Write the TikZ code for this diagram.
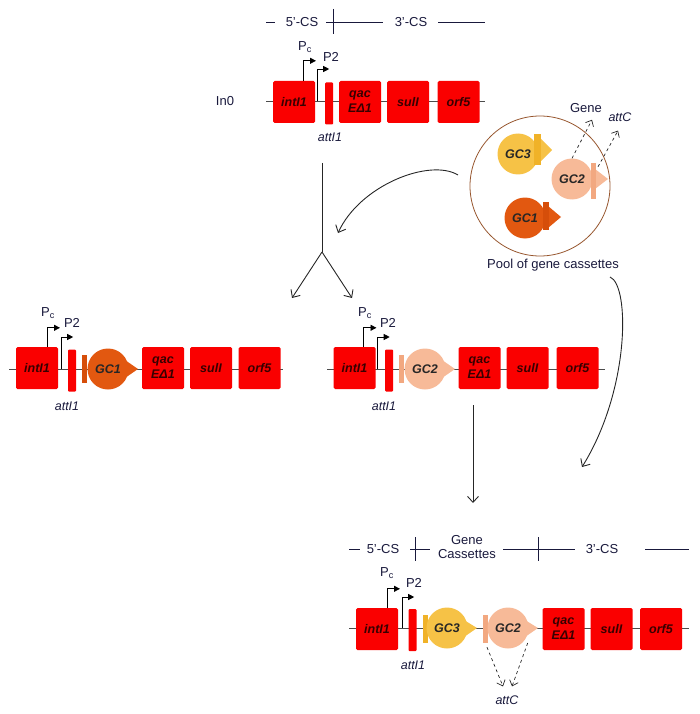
\documentclass[tikz,border=0pt]{standalone}
\usepackage{fontspec}
\setmainfont{Liberation Sans}
\usepackage{xcolor}
\usepackage{tikz}
\usetikzlibrary{arrows.meta,calc}

\definecolor{genered}{RGB}{250,0,0}
\definecolor{genetext}{RGB}{55,0,0}
\definecolor{navy}{RGB}{25,25,60}
\definecolor{gcone}{RGB}{226,88,16}
\definecolor{gconebar}{RGB}{214,78,10}
\definecolor{gctwo}{RGB}{247,186,152}
\definecolor{gctwobar}{RGB}{242,168,128}
\definecolor{gcthree}{RGB}{246,194,70}
\definecolor{gcthreebar}{RGB}{240,178,40}
\definecolor{poolbrown}{RGB}{150,85,45}

\tikzset{
  genebox/.style={fill=genered, rounded corners=1.5pt, minimum width=42pt, minimum height=42pt,
    inner sep=0pt, align=center, text=genetext, font=\fontsize{12.5}{15}\selectfont\bfseries\itshape},
  attbar/.style={fill=genered, rounded corners=1pt, minimum width=8pt, minimum height=42pt, inner sep=0pt},
  gcball/.style={circle, minimum size=41pt, inner sep=0pt, text=black!85,
    font=\fontsize{12.5}{14}\selectfont\bfseries\itshape},
  gcbar/.style={minimum width=5pt, minimum height=28pt, inner sep=0pt},
  lbl/.style={text=navy, inner sep=0pt, align=center, font=\fontsize{13}{14.5}\selectfont},
  itlbl/.style={text=navy, inner sep=0pt, font=\fontsize{12.5}{14}\selectfont\itshape},
  backbone/.style={draw=black!70, line width=0.8pt},
  csline/.style={draw=navy, line width=0.8pt},
  promoter/.style={draw=black, line width=0.8pt, -{Triangle[length=6pt,width=6pt]}},
  flow/.style={draw=black!85, line width=0.9pt, -{Straight Barb[length=6pt,width=11pt]}},
  excise/.style={draw=black!85, line width=0.7pt, dashed, -{Straight Barb[length=5pt,width=9pt]}},
}

\begin{document}
\begin{tikzpicture}[x=1pt,y=-1pt]
\useasboundingbox (0,0) rectangle (700,714);

% 5'-CS / 3'-CS bar over In0
\draw[csline] (266,22) -- (275,22);
\node[lbl] (fivecsTop) at (302,22) {5'-CS};
\draw[csline] (326,22) -- (383,22);
\draw[csline] (333,9) -- (333,34);
\node[lbl] (threecsTop) at (411,22) {3'-CS};
\draw[csline] (438,22) -- (485,22);

% In0
\node[lbl] (inzero) at (225,101) {In0};
\draw[backbone] (266,101) -- (485,101);
\node[genebox] (intTop) at (294,102) {intI1};
\node[attbar] (attTop) at (329,103.5) {};
\node[genebox] (qacTop) at (360,102) {qac\\EΔ1};
\node[genebox] (sulTop) at (408,102) {sulI};
\node[genebox] (orfTop) at (458.5,102) {orf5};
\draw[promoter] ($(intTop.north)+(9,0)$) |- ++(13,-20);
\draw[promoter] ($(intTop.east)+(2,-1)$) |- ++(12,-32);
\node[lbl] (pcTop) at (305,47) {P\textsubscript{c}};
\node[lbl] (ptwoTop) at (331,57) {P2};
\node[itlbl] (attlblTop) at (330,137) {attI1};

% Pool of gene cassettes
\node[circle, draw=poolbrown, line width=0.8pt, minimum size=140pt, inner sep=0pt] (pool) at (540,186) {};
\node[gcball, fill=gcthree] (gcThreePool) at (518,154) {GC3};
\fill[gcthree] (541,139) -- (552,150) -- (541,161) -- cycle;
\node[gcbar, fill=gcthreebar, minimum width=7pt, minimum height=31pt] (barThreePool) at (537.5,150) {};
\fill[gctwo] (595,169) -- (608,179) -- (595,189) -- cycle;
\node[gcball, fill=gctwo] (gcTwoPool) at (572,179) {GC2};
\node[gcbar, fill=gctwobar, minimum height=36pt] (barTwoPool) at (593,181) {};
\fill[gcone] (548,206) -- (561,217) -- (548,228) -- cycle;
\node[gcball, fill=gcone] (gcOnePool) at (525,218) {GC1};
\node[gcbar, fill=gconebar, minimum width=6pt] (barOnePool) at (545.5,216) {};
\node[lbl] (poollbl) at (553,265) {Pool of gene cassettes};
\node[lbl] (genelbl) at (586,108) {Gene};
\node[itlbl] (attclbl) at (620,117) {attC};
\draw[excise] (gcTwoPool.north) -- ($(genelbl.south)+(6,7)$);
\draw[excise] ($(barTwoPool.north)+(5,4)$) -- ($(attclbl.south)+(-2,9)$);

% Integration arrows
\coordinate (stemtop) at (322,163);
\coordinate (split) at (322,252);
\coordinate (toleft) at (292,298);
\coordinate (toright) at (352,298);
\draw[line width=0.9pt, draw=black!85] (stemtop) -- (split);
\draw[flow] (split) -- (toleft);
\draw[flow] (split) -- (toright);
\coordinate (poolout) at (458,175);
\coordinate (splitin) at (338,233);
\draw[flow] (poolout) .. controls (430,158) and (360,185) .. (splitin);

% GC1 inserted
\draw[backbone] (9,369) -- (283,369);
\node[genebox] (intL) at (37,368) {intI1};
\node[attbar] (attL) at (72,370.5) {};
\node[gcbar, fill=gconebar] (barL) at (84.5,369) {};
\fill[gcone] (125,360) -- (138,369) -- (125,378) -- cycle;
\node[gcball, fill=gcone] (gcL) at (108,369) {GC1};
\node[genebox] (qacL) at (163,368) {qac\\EΔ1};
\node[genebox] (sulL) at (211,368) {sulI};
\node[genebox] (orfL) at (259.5,368) {orf5};
\draw[promoter] ($(intL.north)+(10,0)$) |- ++(13,-19);
\draw[promoter] ($(intL.east)+(3,1)$) |- ++(12,-32);
\node[lbl] (pcL) at (48,313) {P\textsubscript{c}};
\node[lbl] (ptwoL) at (72,323) {P2};
\node[itlbl] (attlblL) at (67,406) {attI1};

% GC2 inserted
\draw[backbone] (327,369) -- (605,369);
\node[genebox] (intR) at (354.5,368) {intI1};
\node[attbar] (attR) at (389,370.5) {};
\node[gcbar, fill=gctwobar] (barR) at (401.5,369) {};
\fill[gctwo] (442,360) -- (455,369) -- (442,378) -- cycle;
\node[gcball, fill=gctwo] (gcR) at (425,369) {GC2};
\node[genebox] (qacR) at (479.5,368) {qac\\EΔ1};
\node[genebox] (sulR) at (527.5,368) {sulI};
\node[genebox] (orfR) at (577.5,368) {orf5};
\draw[promoter] ($(intR.north)+(9,0)$) |- ++(13,-19);
\draw[promoter] ($(intR.east)+(2,1)$) |- ++(12,-32);
\node[lbl] (pcR) at (365,313) {P\textsubscript{c}};
\node[lbl] (ptwoR) at (388,323) {P2};
\node[itlbl] (attlblR) at (384,406) {attI1};

% Second round
\coordinate (downtop) at (473,405);
\coordinate (downend) at (473,503);
\draw[flow] (downtop) -- (downend);
\coordinate (poolout2) at (610,277);
\coordinate (poolin2) at (582,467);
\draw[flow] (poolout2) .. controls (630,285) and (630,390) .. (poolin2);

% 5'-CS / Gene Cassettes / 3'-CS bar
\draw[csline] (349,549) -- (360,549);
\node[lbl] (fivecsBot) at (383,549) {5'-CS};
\draw[csline] (410,549) -- (430,549);
\draw[csline] (415,537) -- (415,561);
\node[lbl] (gclbl) at (467,547) {Gene\\Cassettes};
\draw[csline] (503,549) -- (575,549);
\draw[csline] (538,537) -- (538,561);
\node[lbl] (threecsBot) at (602,549) {3'-CS};
\draw[csline] (645,549) -- (689,549);

% GC3 + GC2 array
\draw[backbone] (349,628) -- (689,628);
\node[genebox] (intBot) at (377,629) {intI1};
\node[attbar] (attBot) at (412.5,630) {};
\node[gcbar, fill=gcthreebar] (barThreeBot) at (425,629) {};
\fill[gcthree] (464,620) -- (477,628) -- (464,637) -- cycle;
\node[gcball, fill=gcthree] (gcThreeBot) at (447,628) {GC3};
\node[gcbar, fill=gctwobar] (barTwoBot) at (485,629) {};
\fill[gctwo] (525,620) -- (538,628) -- (525,637) -- cycle;
\node[gcball, fill=gctwo] (gcTwoBot) at (508,628) {GC2};
\node[genebox] (qacBot) at (563.5,629) {qac\\EΔ1};
\node[genebox] (sulBot) at (611.5,629) {sulI};
\node[genebox] (orfBot) at (661,629) {orf5};
\draw[promoter] ($(intBot.north)+(10,0)$) |- ++(13,-19);
\draw[promoter] ($(intBot.east)+(4,-1)$) |- ++(12,-31);
\node[lbl] (pcBot) at (387,573) {P\textsubscript{c}};
\node[lbl] (ptwoBot) at (414,583) {P2};
\node[itlbl] (attlblBot) at (413,665) {attI1};
\node[itlbl] (attcBot) at (507,700) {attC};
\draw[excise] ($(barTwoBot.south)+(2,4)$) -- ($(attcBot.north)+(-4,-9)$);
\draw[excise] ($(gcTwoBot.east)+(-1,15)$) -- ($(attcBot.north)+(5,-9)$);
\end{tikzpicture}
\end{document}
